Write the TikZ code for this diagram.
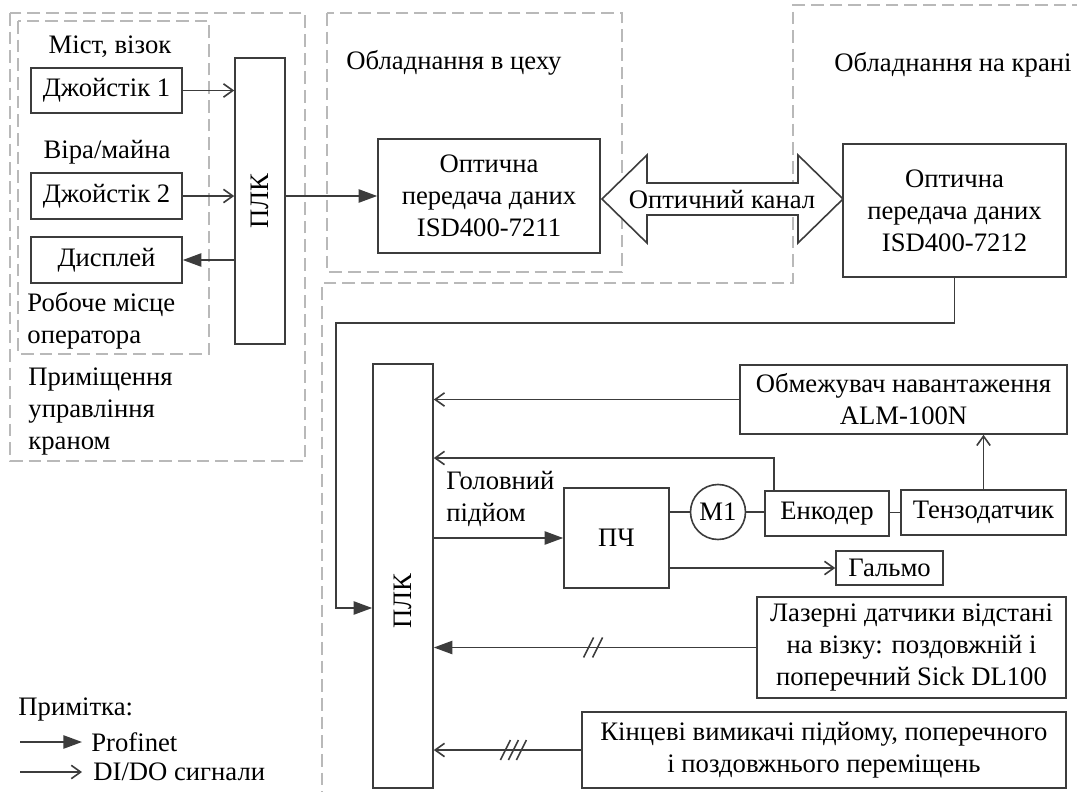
\documentclass[tikz,border=0pt]{standalone}
\usepackage{fontspec}
\setmainfont{Liberation Serif}
\usetikzlibrary{arrows.meta}
\usetikzlibrary{calc}

\definecolor{linegray}{RGB}{60,60,60}
\definecolor{dashgray}{RGB}{185,185,185}
\newcommand{\unitpx}{0.375pt}

\tikzset{
    blk/.style={draw=linegray, line width=0.6pt, inner sep=0pt, align=center},
    bw/.style={minimum width=#1*\unitpx},
    bh/.style={minimum height=#1*\unitpx},
    conn/.style={draw=linegray, line width=0.6pt},
    pn/.style={conn, -{Triangle[length=7pt,width=5pt]}},
    dio/.style={conn, -{Straight Barb[length=3.5pt,width=5pt]}},
    zone/.style={draw=dashgray, line width=0.7pt, dash pattern=on 4.8pt off 2.2pt},
    slash/.style={draw=linegray, line width=0.6pt}
}

\begin{document}
\begin{tikzpicture}[x=0.375pt, y=-0.375pt, font=\fontsize{10}{12}\selectfont]
    \useasboundingbox (0,0) rectangle (1077,792);

    % zones
    \draw[zone] (10,13) rectangle (305,461);
    \draw[zone] (18,21) rectangle (209,354);
    \draw[zone] (327,13) rectangle (622,272);
    \draw[zone] (1085,5) -- (793,5) -- (793,283) -- (322,283) -- (322,800);

    \node at (110,47) {Міст, візок};
    \node at (107,152) {Віра/майна};
    \node[anchor=west, align=left] at (18,321) {Робоче місце\\оператора};
    \node[anchor=west, align=left] at (19,412) {Приміщення\\управління\\краном};
    \node at (454,63) {Обладнання в цеху};
    \node at (953,65) {Обладнання на крані};

    % operator room
    \node[blk, bw=151, bh=45] (joyA) at (106.5,90.5) {Джойстік 1};
    \node[blk, bw=151, bh=46] (joyB) at (106.5,196) {Джойстік 2};
    \node[blk, bw=151, bh=46] (disp) at (106.5,260) {Дисплей};
    \node[blk, bw=50, bh=286] (plcA) at (260,201) {};
    \node[rotate=90] (plcAtxt) at (plcA) {ПЛК};

    \draw[dio] (joyA.east) -- (joyA.east -| plcA.west);
    \draw[dio] (joyB.east) -- (joyB.east -| plcA.west);
    \draw[pn] (disp.east -| plcA.west) -- (disp.east);

    % optical link
    \node[blk, bw=222, bh=114] (optA) at (489,196)
        {Оптична\\передача даних\\ISD400-7211};
    \node[blk, bw=223, bh=133] (optB) at (954.5,210.5)
        {Оптична\\передача даних\\ISD400-7212};
    \draw[pn] (optA.west -| plcA.east) -- (optA.west);

    \draw[draw=linegray, fill=white, line width=0.6pt] (602,199) -- (647,155)
        -- (647,183) -- (798,183) -- (798,155) -- (843,199) -- (798,243)
        -- (798,215) -- (647,215) -- (647,243) -- cycle;
    \node (chan) at (722,200) {Оптичний канал};

    % crane
    \node[blk, bw=60, bh=424] (plcB) at (403,576) {};
    \node[rotate=90] (plcBtxt) at (403,601) {ПЛК};
    \coordinate (bendA) at (336,323);
    \coordinate (bendB) at (336,608);
    \draw[pn] (optB.south) |- (bendA) -- (bendB) -- (bendB -| plcB.west);

    \node[blk, bw=327, bh=69] (limit) at (903.5,399.5)
        {Обмежувач навантаження\\ALM-100N};
    \node[blk, bw=105, bh=100] (pch) at (616.5,538) {ПЧ};
    \node[draw=linegray, line width=0.6pt, circle, inner sep=0pt,
        minimum size=55*\unitpx] (motor) at (718,512) {M1};
    \node[blk, bw=124, bh=45] (enc) at (827,513.5) {Енкодер};
    \node[blk, bw=165, bh=45] (tenzo) at (983.5,512.5) {Тензодатчик};
    \node[blk, bw=107, bh=34] (brake) at (889.5,568) {Гальмо};
    \node[blk, bw=309, bh=101] (laser) at (911.5,647.5)
        {Лазерні датчики відстані\\на візку: поздовжній і\\поперечний Sick DL100};
    \node[blk, bw=484, bh=76] (endsw) at (824,750)
        {Кінцеві вимикачі підйому, поперечного\\і поздовжнього переміщень};
    \node[anchor=west, align=left] (hoist) at (437,499) {Головний\\підйом};

    \coordinate (encTop) at (774,458);
    \draw[dio] (limit.west) -- (limit.west -| plcB.east);
    \draw[dio] (enc.north -| encTop) -- (encTop) -- (encTop -| plcB.east);
    \draw[pn] (pch.west -| plcB.east) -- (pch.west);
    \draw[conn] (pch.east |- motor) -- (motor.west);
    \draw[conn] (motor.east) -- (motor.east -| enc.west);
    \draw[conn] (enc.east |- tenzo.west) -- (tenzo.west);
    \draw[dio] (tenzo.north) -- (tenzo.north |- limit.south);
    \draw[dio] (pch.east |- brake) -- (brake.west);
    \draw[pn] (laser.west) -- coordinate[pos=0.506] (slA) (laser.west -| plcB.east);
    \draw[dio] (endsw.west) -- coordinate[pos=0.46] (slB) (endsw.west -| plcB.east);
    \foreach \d in {-4.5,4.5}
        \draw[slash] ($(slA)+(\d-5,10)$) -- ($(slA)+(\d+5,-10)$);
    \foreach \d in {-8,0,8}
        \draw[slash] ($(slB)+(\d-5,10)$) -- ($(slB)+(\d+5,-10)$);

    % legend
    \node[anchor=west] (note) at (9,710) {Примітка:};
    \coordinate (lgA) at (20,742);
    \coordinate (lgB) at (82,742);
    \coordinate (lgC) at (20,772);
    \coordinate (lgD) at (82,772);
    \draw[pn] (lgA) -- (lgB);
    \draw[dio] (lgC) -- (lgD);
    \node[anchor=west] (lgPn) at (lgB) {Profinet};
    \node[anchor=west] (lgDio) at ($(lgD)+(2,0)$) {DI/DO сигнали};
\end{tikzpicture}
\end{document}
